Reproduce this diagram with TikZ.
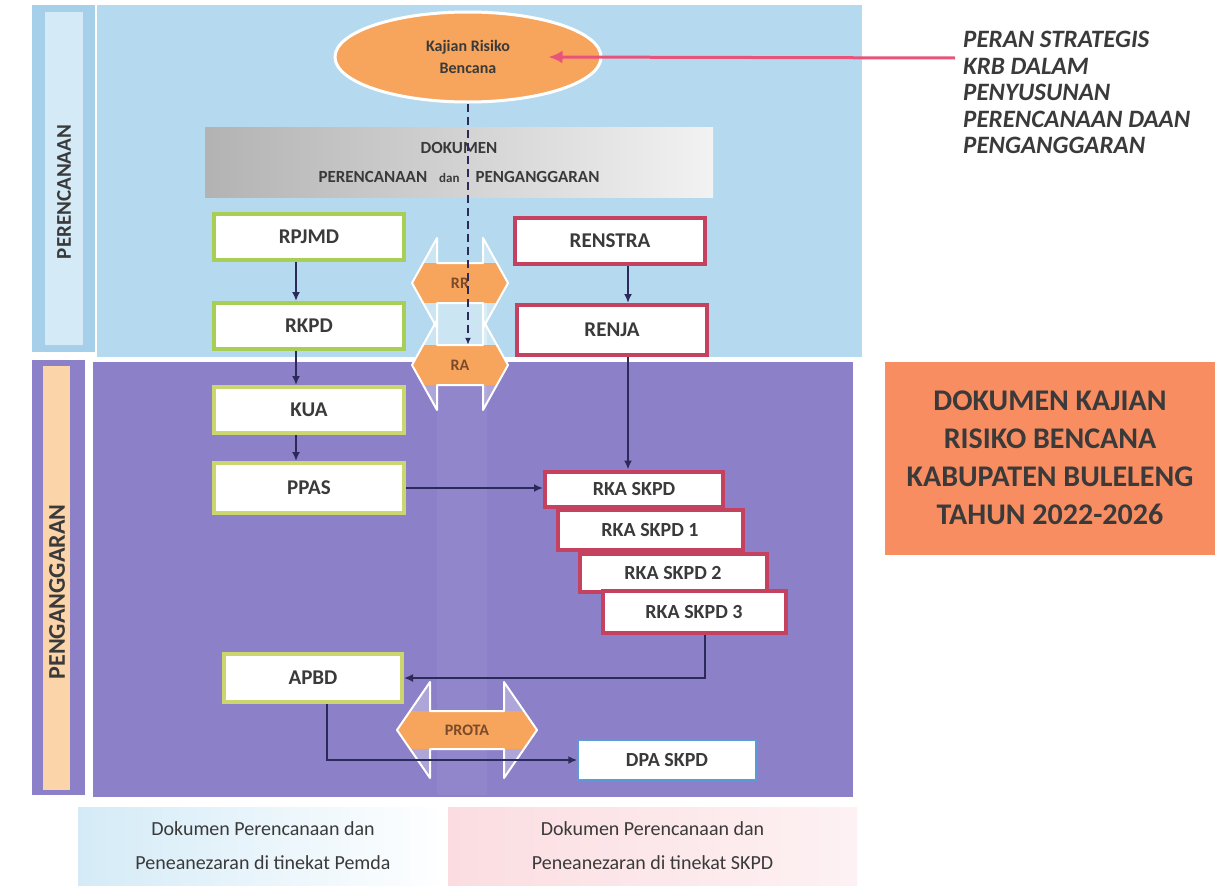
\documentclass[tikz,border=0pt]{standalone}
\usepackage{fontspec}
\setmainfont{Carlito}
\usetikzlibrary{shapes.geometric,arrows.meta}

\definecolor{skyblue}{HTML}{B5DAEF}
\definecolor{skystrip}{HTML}{A6D0EA}
\definecolor{skylight}{HTML}{D4EBF7}
\definecolor{lilac}{HTML}{8C80C9}
\definecolor{peach}{HTML}{FBD4AA}
\definecolor{krborange}{HTML}{F7A55C}
\definecolor{docorange}{HTML}{F98D62}
\definecolor{krbpink}{HTML}{E8537B}
\definecolor{leafgreen}{HTML}{A8CF55}
\definecolor{olivegreen}{HTML}{CBD66E}
\definecolor{rosered}{HTML}{C4425F}
\definecolor{flowline}{HTML}{2C2A5A}
\definecolor{dpablue}{HTML}{5A9BD8}
\definecolor{txtgray}{HTML}{3A3A3A}
\definecolor{legpink}{HTML}{FBDDE1}
\definecolor{labelbrown}{HTML}{7A4A2A}

\begin{document}
\begin{tikzpicture}[x=1pt, y=-1pt,
    pemda/.style={draw=leafgreen, line width=4pt, fill=white, minimum width=190pt,
        minimum height=46pt, inner sep=0pt, font=\fontsize{21}{23}\selectfont\bfseries, text=txtgray},
    pemdaolive/.style={pemda, draw=olivegreen},
    skpd/.style={pemda, draw=rosered},
    rkabox/.style={skpd, font=\fontsize{20}{22}\selectfont\bfseries},
    flow/.style={draw=flowline, line width=1.8pt, -{Latex[length=9pt,width=8pt]}},
    panel/.style={font=\fontsize{21}{23}\selectfont\bfseries, text=txtgray, rotate=90},
    legend/.style={minimum height=78pt, align=center, font=\fontsize{20}{34}\selectfont, text=txtgray}]
    \useasboundingbox (0,0) rectangle (1221,894);
    \fill[white] (0,0) rectangle (1221,894);

    \fill[skyblue] (97,5) rectangle (862,357);
    \fill[skystrip] (32,5) rectangle (95,352);
    \fill[skylight] (45,12) rectangle (83,345);
    \fill[lilac] (93,362) rectangle (853,797);
    \fill[lilac] (32,360) rectangle (85,795);
    \fill[peach] (43,366) rectangle (70,790);
    \node[panel] (perencanaan) at (64,192) {PERENCANAAN};
    \node[panel, font=\fontsize{24}{26}\selectfont\bfseries] (penganggaran) at (57,592) {PENGANGGARAN};

    \node[ellipse, draw=white, line width=3pt, fill=krborange, minimum width=266pt, minimum height=90pt,
        align=center, font=\fontsize{16}{22}\selectfont\bfseries, text=txtgray] (kajian) at (468,57) {Kajian Risiko\\Bencana};
    \coordinate (krbtail) at (955,58);
    \draw[krbpink, line width=3pt, -{Latex[length=14pt,width=13pt]}] (krbtail) -- ([xshift=-54pt]kajian.east);
    \node[anchor=north west, inner sep=0pt, align=left, font=\fontsize{25}{26.5}\selectfont\bfseries\itshape,
        text=txtgray] (peran) at (963,31) {PERAN STRATEGIS\\KRB DALAM\\PENYUSUNAN\\PERENCANAAN DAAN\\PENGANGGARAN};
    \node[fill=docorange, minimum width=330pt, minimum height=193pt, align=center,
        font=\fontsize{30}{38}\selectfont\bfseries, text=txtgray] (krbdoc) at (1050,458)
        {DOKUMEN KAJIAN\\RISIKO BENCANA\\KABUPATEN BULELENG\\TAHUN 2022-2026};

    \node[left color=gray!60, right color=gray!10, minimum width=508pt, minimum height=70pt, align=center,
        font=\fontsize{17}{29}\selectfont\bfseries, text=txtgray] (dokumen) at (459,162)
        {DOKUMEN\\PERENCANAAN\hspace{12pt}{\fontsize{13}{14}\selectfont dan}\hspace{16pt}PENGANGGARAN};

    \fill[white, opacity=0.3] (437,303) rectangle (487,347);
    \fill[white, opacity=0.05] (437,385) rectangle (487,795);
    \foreach \cx/\cy/\tip/\base/\wing/\band/\word/\name in
        {460/283/48/23/45/20/RR/rr, 460/365/48/23/45/20/RA/ra, 467/730/70/37/48/19/PROTA/prota} {
        \fill[white, opacity=0.3] (\cx-\tip,\cy) -- (\cx-\base,\cy-\wing) -- (\cx-\base,\cy-\band)
            -- (\cx+\base,\cy-\band) -- (\cx+\base,\cy-\wing) -- (\cx+\tip,\cy) -- (\cx+\base,\cy+\wing)
            -- (\cx+\base,\cy+\band) -- (\cx-\base,\cy+\band) -- (\cx-\base,\cy+\wing) -- cycle;
        \begin{scope}
            \clip (\cx-\tip,\cy) -- (\cx-\base,\cy-\wing) -- (\cx+\base,\cy-\wing) -- (\cx+\tip,\cy)
                -- (\cx+\base,\cy+\wing) -- (\cx-\base,\cy+\wing) -- cycle;
            \fill[krborange] (\cx-\tip,\cy-\band) rectangle (\cx+\tip,\cy+\band);
        \end{scope}
        \draw[white, line width=2pt, line join=round] (\cx-\tip,\cy) -- (\cx-\base,\cy-\wing) -- (\cx-\base,\cy-\band)
            -- (\cx+\base,\cy-\band) -- (\cx+\base,\cy-\wing) -- (\cx+\tip,\cy) -- (\cx+\base,\cy+\wing)
            -- (\cx+\base,\cy+\band) -- (\cx-\base,\cy+\band) -- (\cx-\base,\cy+\wing) -- cycle;
        \node[minimum height=2*\band pt, inner sep=0pt, font=\fontsize{16}{17}\selectfont\bfseries,
            text=labelbrown] (\name) at (\cx,\cy) {\word};
    }
    \draw[flowline, line width=1.5pt, dash pattern=on 8pt off 5pt, -{Latex[length=7pt,width=6pt]}]
        (kajian.south) -- (kajian.south |- ra.north);

    \node[pemda] (rpjmd) at (309,237) {RPJMD};
    \node[pemda] (rkpd) at (309,326) {RKPD};
    \node[pemdaolive] (kua) at (309,410) {KUA};
    \node[pemdaolive, minimum height=50pt] (ppas) at (309,488) {PPAS};
    \node[pemdaolive, minimum width=178pt, minimum height=48pt] (apbd) at (313,678) {APBD};
    \node[skpd] (renstra) at (610,241) {RENSTRA};
    \node[skpd, minimum height=50pt] (renja) at (612,330) {RENJA};
    \node[rkabox, minimum width=178pt, minimum height=35pt] (rka) at (634,489) {RKA SKPD};
    \node[rkabox, minimum width=185pt, minimum height=40pt] (rkaa) at (650,530) {RKA SKPD 1};
    \node[rkabox, minimum width=187pt, minimum height=38pt] (rkab) at (673,573) {RKA SKPD 2};
    \node[rkabox, minimum width=183pt, minimum height=42pt] (rkac) at (694,612) {RKA SKPD 3};
    \node[draw=dpablue, line width=1.5pt, fill=white, minimum width=178pt, minimum height=40pt,
        font=\fontsize{20}{22}\selectfont\bfseries, text=txtgray] (dpa) at (667,760) {DPA SKPD};

    \draw[flow] ([xshift=-13pt]rpjmd.south) -- ([xshift=-13pt]rkpd.north);
    \draw[flow] ([xshift=-13pt]rkpd.south) -- ([xshift=-13pt]kua.north);
    \draw[flow] ([xshift=-13pt]kua.south) -- ([xshift=-13pt]ppas.north);
    \draw[flow] ([xshift=18pt]renstra.south) -- ([xshift=16pt]renja.north);
    \draw[flow] ([xshift=16pt]renja.south) -- ([xshift=16pt]renja.south |- rka.north);
    \draw[flow] (ppas.east) -- (ppas.east -| rka.west);
    \draw[flow] ([xshift=11pt]rkac.south) |- (apbd.east);
    \draw[flow] ([xshift=14pt]apbd.south) |- (dpa.west);

    \node[legend, left color=skylight, right color=white, minimum width=370pt] (legpemda) at (263,846)
        {Dokumen Perencanaan dan\\Peneanezaran di tinekat Pemda};
    \node[legend, left color=legpink, right color=legpink!40, minimum width=409pt] (legskpd) at (652.5,846)
        {Dokumen Perencanaan dan\\Peneanezaran di tinekat SKPD};
\end{tikzpicture}
\end{document}
